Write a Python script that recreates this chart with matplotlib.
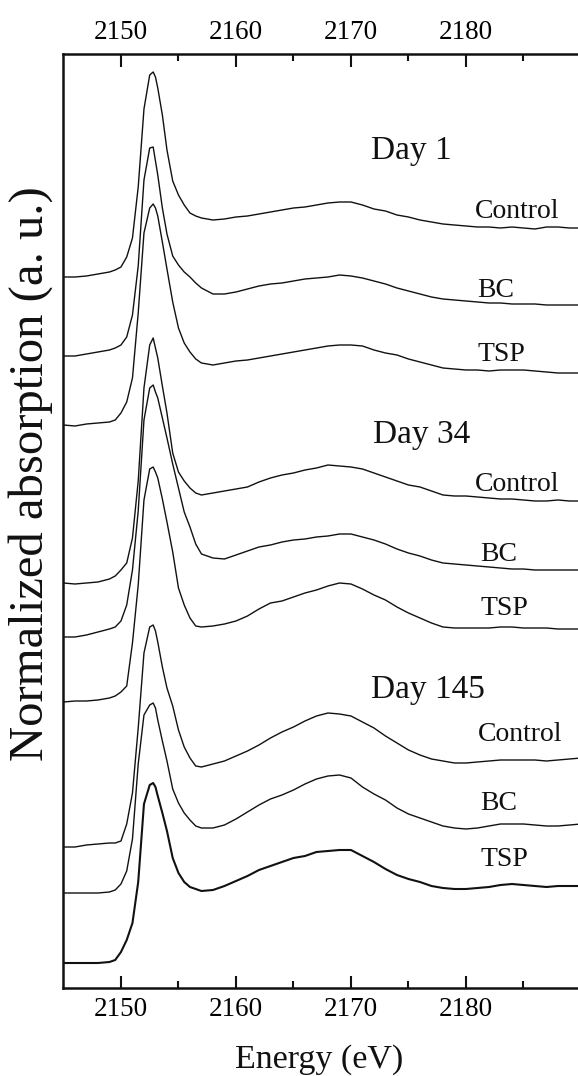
import matplotlib
matplotlib.use("Agg")
import matplotlib.pyplot as plt

# ---------------- data ----------------
energy = [2145, 2146, 2147, 2148, 2149, 2149.5, 2150, 2150.5, 2151, 2151.5,
          2152, 2152.5, 2152.8, 2153.0, 2153.2, 2153.6, 2154, 2154.5, 2155, 2155.5, 2156,
          2156.5, 2157, 2158, 2159, 2160, 2161, 2162, 2163, 2164, 2165,
          2166, 2167, 2168, 2169, 2170, 2171, 2172, 2173, 2174, 2175,
          2176, 2177, 2178, 2179, 2180, 2181, 2182, 2183, 2184, 2185,
          2186, 2187, 2188, 2189, 2190]

# stacked spectra (arbitrary units, offsets included)
d1_control = [711, 711, 712, 714, 716, 718, 721, 731, 750, 801, 879, 913, 916, 911, 900, 873, 838, 807, 793, 783, 775,
              772, 770, 768, 769, 771, 772, 774, 776, 778, 780, 781, 783, 785, 786, 786, 783, 779, 777, 773, 771,
              768, 766, 764, 763, 762, 761, 761, 760, 761, 760, 759, 761, 761, 760, 760]
d1_bc = [632, 632, 634, 636, 638, 640, 643, 651, 673, 722, 808, 840, 841, 827, 813, 780, 754, 732, 723, 716, 711,
         705, 700, 694, 694, 696, 699, 702, 704, 705, 707, 709, 710, 711, 713, 712, 710, 707, 704, 700, 697,
         694, 691, 689, 688, 687, 686, 685, 685, 684, 684, 684, 683, 683, 683, 683]
d1_tsp = [563, 562, 564, 565, 566, 568, 575, 586, 610, 675, 755, 780, 784, 780, 772, 746, 719, 686, 660, 645, 636,
          629, 625, 623, 625, 627, 628, 630, 632, 634, 636, 638, 640, 642, 643, 643, 642, 638, 635, 633, 629,
          626, 623, 620, 619, 618, 618, 617, 618, 618, 618, 617, 616, 615, 615, 615]
d34_control = [405, 404, 405, 406, 409, 412, 418, 425, 450, 507, 600, 643, 650, 640, 630, 602, 575, 535, 516, 507, 500,
               495, 493, 495, 497, 499, 501, 506, 510, 513, 515, 518, 520, 523, 522, 521, 519, 515, 511, 507, 503,
               501, 497, 493, 492, 492, 491, 490, 489, 489, 488, 487, 487, 488, 487, 487]
d34_bc = [351, 351, 353, 356, 359, 361, 367, 383, 418, 477, 568, 600, 603, 596, 590, 570, 550, 524, 500, 476, 461,
          444, 434, 430, 429, 433, 437, 441, 443, 446, 448, 449, 451, 452, 454, 454, 451, 448, 444, 439, 435,
          432, 428, 425, 424, 423, 422, 421, 420, 419, 419, 418, 418, 418, 418, 418]
d34_tsp = [286, 287, 287, 288, 290, 292, 296, 302, 345, 403, 488, 519, 521, 516, 510, 489, 466, 436, 400, 383, 370,
           362, 361, 362, 364, 367, 372, 379, 385, 387, 391, 395, 398, 402, 405, 404, 399, 393, 388, 381, 375,
           370, 365, 361, 360, 360, 360, 360, 361, 361, 360, 360, 360, 359, 359, 359]
d145_control = [141, 141, 143, 144, 145, 145, 147, 164, 195, 260, 335, 361, 363, 357, 346, 321, 300, 282, 258, 241, 230,
                222, 221, 224, 227, 232, 237, 243, 250, 256, 261, 267, 272, 275, 274, 272, 266, 260, 252, 245, 238,
                233, 229, 227, 225, 225, 226, 227, 228, 228, 228, 228, 227, 228, 229, 230]
d145_bc = [95, 95, 95, 95, 96, 98, 104, 117, 149, 224, 273, 283, 285, 280, 268, 247, 227, 199, 185, 175, 168,
           162, 160, 160, 163, 169, 176, 183, 189, 193, 198, 204, 209, 212, 213, 210, 201, 194, 188, 180, 174,
           170, 166, 162, 160, 159, 160, 162, 164, 164, 164, 163, 162, 162, 163, 164]
d145_tsp = [25, 25, 25, 25, 26, 28, 36, 48, 65, 106, 184, 203, 205, 201, 192, 175, 157, 130, 115, 106, 101,
            99, 97, 98, 102, 107, 112, 118, 122, 126, 130, 132, 136, 137, 138, 138, 132, 126, 119, 113, 109,
            106, 102, 100, 99, 99, 100, 101, 103, 104, 103, 102, 101, 102, 102, 102]

day_labels = ["Day 1", "Day 34", "Day 145"]
sample_labels = ["Control", "BC", "TSP"]
x_major = [2150, 2160, 2170, 2180]
x_minor = [2155, 2165, 2175, 2185]

# ---------------- figure ----------------
plt.rcParams['font.family'] = ['Liberation Serif', 'DejaVu Serif']

W, H = 578, 1076
fig = plt.figure(figsize=(W / 100, H / 100), dpi=100)
ax = fig.add_axes([63 / W, 88 / H, 515 / W, 934 / H])

series = [d1_control, d1_bc, d1_tsp,
          d34_control, d34_bc, d34_tsp,
          d145_control, d145_bc, d145_tsp]
widths = [1.0] * 8 + [1.5]
for s, lw in zip(series, widths):
    ax.plot(energy, s, color='#111111', lw=lw, solid_joinstyle='round')

ax.set_xlim(2144.96, 2189.74)
ax.set_ylim(0, 934)

# text labels
day_pos = [(2171.7, 829), (2171.9, 545), (2171.7, 290)]
for (x, y), t in zip(day_pos, day_labels):
    ax.text(x, y, t, fontsize=24, ha='left', va='baseline', color='#111111')
sample_pos = [(2180.75, 770), (2181.0, 691), (2181.0, 627),
              (2180.75, 497), (2181.2, 427), (2181.3, 373),
              (2181.0, 247), (2181.2, 178), (2181.3, 122)]
for i, (x, y) in enumerate(sample_pos):
    ax.text(x, y, sample_labels[i % 3], fontsize=20, ha='left', va='baseline', color='#111111')

# axes styling
ax.set_xticks(x_major)
ax.set_xticks(x_minor, minor=True)
ax.set_yticks([])
ax.tick_params(axis='x', which='both', direction='in', top=True, bottom=True,
               labeltop=True, labelbottom=True, labelsize=19.5, pad=6.5,
               width=1.5, color='#111111')
ax.tick_params(axis='x', which='major', length=9)
ax.tick_params(axis='x', which='minor', length=5)
ax.spines['right'].set_visible(False)
for sp in ['left', 'top', 'bottom']:
    ax.spines[sp].set_linewidth(1.8)
    ax.spines[sp].set_color('#111111')

fig.text(31 / W, 1 - 474 / H, 'Normalized absorption (a. u.)', rotation=90,
         ha='center', va='center', fontsize=35, color='#111111')
fig.text(319 / W, 1 - 1068 / H, 'Energy (eV)', ha='center', va='baseline',
         fontsize=24.5, color='#111111')

fig.savefig('out.png', dpi=100)
